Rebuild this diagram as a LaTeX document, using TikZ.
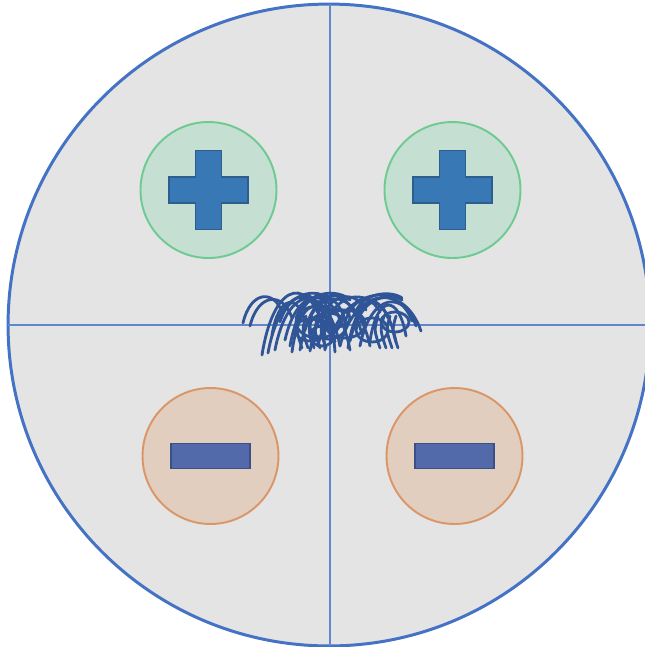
\documentclass[tikz,border=0pt]{standalone}
\usepackage{tikz}
\usetikzlibrary{positioning}
\definecolor{dishgray}{RGB}{228,228,228}
\definecolor{rimblue}{RGB}{68,114,196}
\definecolor{posfill}{RGB}{197,223,211}
\definecolor{posline}{RGB}{109,203,145}
\definecolor{negfill}{RGB}{227,212,200}
\definecolor{negline}{RGB}{218,150,104}
\definecolor{plusblue}{RGB}{56,120,180}
\definecolor{plusedge}{RGB}{46,94,142}
\definecolor{minusblue}{RGB}{82,106,170}
\definecolor{minusedge}{RGB}{59,79,136}
\definecolor{wormblue}{RGB}{47,85,151}

\begin{document}
\begin{tikzpicture}[x=0.02cm,y=-0.02cm, poscirc/.style={circle,draw=posline,fill=posfill,line width=1.1pt,minimum size=2.72cm,inner sep=0pt}, negcirc/.style={circle,draw=negline,fill=negline!10!negfill,line width=1.1pt,minimum size=2.72cm,inner sep=0pt}, plussign/.style={draw=plusedge,fill=plusblue,line width=0.9pt}, minussign/.style={draw=minusedge,fill=minusblue,line width=0.9pt}, worm/.style={draw=wormblue,line width=1.6pt,line cap=round}]
\useasboundingbox (0,0) rectangle (645,647);
% dish and quadrants
\draw[draw=rimblue,fill=dishgray,line width=1.7pt] (329,325) circle[radius=6.42cm];
\coordinate (top) at (330,4);
\coordinate (bot) at (330,646);
\coordinate (lft) at (8,325);
\coordinate (rgt) at (650,325);
\draw[rimblue!85,line width=0.8pt] (top) -- (bot);
\draw[rimblue!85,line width=0.8pt] (lft) -- (rgt);
% charges
\node[poscirc] (pa) at (208.5,190) {};
\node[poscirc] (pb) at (452.5,190) {};
\node[negcirc] (na) at (210.5,456) {};
\node[negcirc] (nb) at (454.5,456) {};
\foreach \c in {pa,pb}{\draw[plussign,shift={(\c)}] (-13,-39.5) -- (13,-39.5) -- (13,-13) -- (39.5,-13) -- (39.5,13) -- (13,13) -- (13,39.5) -- (-13,39.5) -- (-13,13) -- (-39.5,13) -- (-39.5,-13) -- (-13,-13) -- cycle;}
\foreach \c in {na,nb}{\draw[minussign,shift={(\c)}] (-39.5,-12.5) rectangle (39.5,12.5);}
% the tangle
\foreach \sx/\sy/\ex/\ey/\t in {243/323/282/312/290, 250/326/292/318/292, 262/355/325/335/276, 268/353/335/342/280, 275/350/340/346/282, 285/340/350/350/282, 290/346/345/320/284, 300/350/362/335/280, 305/330/370/346/286, 310/351/366/310/288, 280/322/332/302/288, 296/318/350/300/289, 318/346/380/312/288, 330/341/402/300/290, 340/346/421/331/284, 350/341/412/321/287, 345/322/396/342/289, 360/346/416/326/291, 356/311/402/298/291, 370/341/406/336/294, 325/350/300/300/290, 335/352/312/300/292, 272/335/305/322/294, 292/352/330/330/296, 348/348/388/318/294}
  {\draw[worm] (\sx,\sy) .. controls ({\sx+0.2*(\ex-\sx)},\t) and ({\ex-0.2*(\ex-\sx)},\t) .. (\ex,\ey);}
\foreach \cx/\cy/\rx/\ry in {318/322/22/16, 328/326/18/13, 310/330/15/11, 345/324/20/14, 372/330/16/12, 395/322/14/10, 322/336/12/10, 336/318/14/9}
  {\draw[worm] (\cx,\cy) ellipse[x radius=\rx*0.02cm,y radius=\ry*0.02cm];}
\foreach \hx in {300,306,312,318,324,378,384,390,396}
  {\draw[worm] (\hx,316) .. controls (\hx-4,330) .. (\hx+2,348);}
\end{tikzpicture}
\end{document}
